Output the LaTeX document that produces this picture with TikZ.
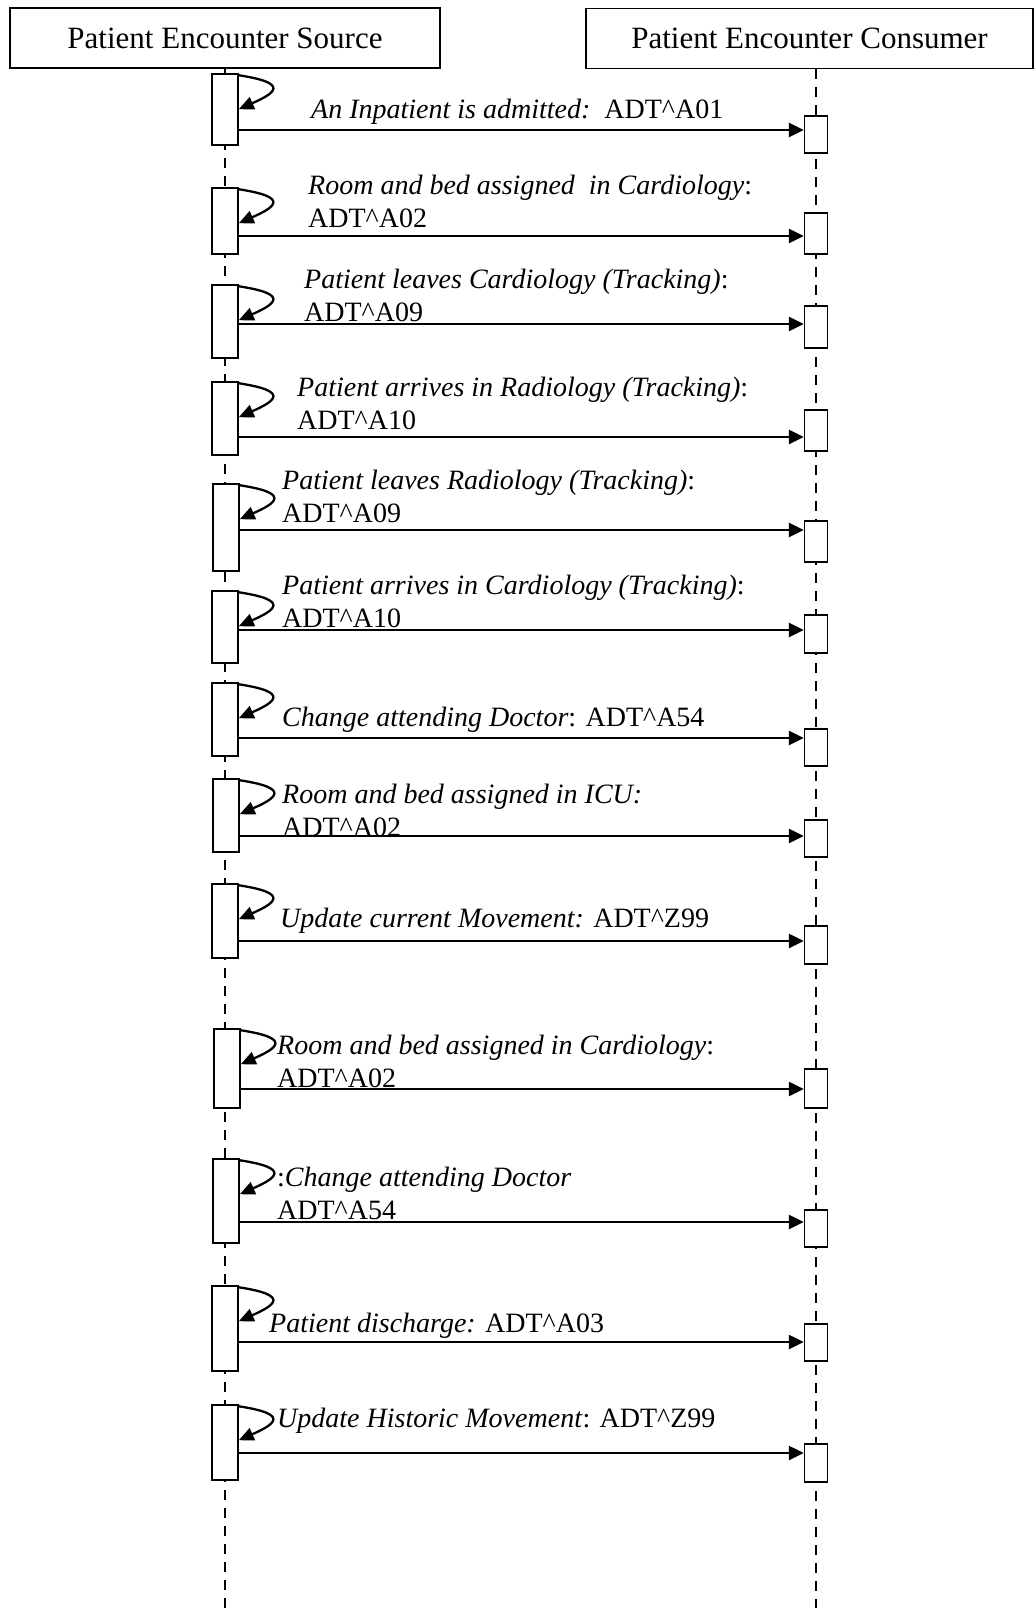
\documentclass[tikz,border=0pt]{standalone}
\usepackage{fontspec}
\setmainfont{Liberation Serif}
\usetikzlibrary{arrows.meta}
\newcommand\adt[1]{ADT\textasciicircum#1}

\begin{document}
\begin{tikzpicture}[x=1pt,y=-1pt,
    head/.style={draw,line width=1.5pt,minimum height=60pt,inner sep=0pt,font=\fontsize{31}{36}\selectfont},
    life/.style={line width=1.5pt,dash pattern=on 10pt off 8pt},
    actbox/.style={draw,fill=white,line width=1.5pt,minimum width=26pt,inner sep=0pt},
    recvbox/.style={draw,fill=white,line width=1.5pt,minimum width=23pt,inner sep=0pt},
    msg/.style={line width=2.6pt,-{Triangle[length=15pt,width=14pt]}},
    selfloop/.style={line width=2.3pt,-{Triangle[length=15pt,width=13pt]}},
    lbl/.style={anchor=base west,inner sep=0pt,align=left,font=\fontsize{28}{33}\selectfont}
  ]
    \useasboundingbox (0,0) rectangle (1035,1608);

    % lifelines
    \node[head,minimum width=430pt] (src) at (225,38) {Patient Encounter Source};
    \node[head,minimum width=447pt] (cons) at (809.5,38.5) {Patient Encounter Consumer};
    \coordinate (sl) at (225,68);
    \coordinate (cl) at (816,69);
    \coordinate (bot) at (0,1608);
    \draw[life] (sl) -- (sl |- bot);
    \draw[life] (cl) -- (cl |- bot);

    % activations on the source
    \node[actbox,minimum height=71pt] (s1) at (225,109.5) {};
    \node[actbox,minimum height=66pt] (s2) at (225,221) {};
    \node[actbox,minimum height=73pt] (s3) at (225,321.5) {};
    \node[actbox,minimum height=73pt] (s4) at (225,418.5) {};
    \node[actbox,minimum height=87pt] (s5) at (226,527.5) {};
    \node[actbox,minimum height=72pt] (s6) at (225,627) {};
    \node[actbox,minimum height=73pt] (s7) at (225,719.5) {};
    \node[actbox,minimum height=73pt] (s8) at (226,815.5) {};
    \node[actbox,minimum height=74pt] (s9) at (225,921) {};
    \node[actbox,minimum height=79pt] (s10) at (227,1068.5) {};
    \node[actbox,minimum height=84pt] (s11) at (226,1201) {};
    \node[actbox,minimum height=85pt] (s12) at (225,1328.5) {};
    \node[actbox,minimum height=75pt] (s13) at (225,1442.5) {};

    % activations on the consumer
    \node[recvbox,minimum height=37pt] (r1) at (816,134.5) {};
    \node[recvbox,minimum height=41pt] (r2) at (816,233.5) {};
    \node[recvbox,minimum height=42pt] (r3) at (816,327) {};
    \node[recvbox,minimum height=41pt] (r4) at (816,430.5) {};
    \node[recvbox,minimum height=41pt] (r5) at (816,541.5) {};
    \node[recvbox,minimum height=38pt] (r6) at (816,634) {};
    \node[recvbox,minimum height=37pt] (r7) at (816,747.5) {};
    \node[recvbox,minimum height=37pt] (r8) at (816,838.5) {};
    \node[recvbox,minimum height=38pt] (r9) at (816,945) {};
    \node[recvbox,minimum height=39pt] (r10) at (816,1088.5) {};
    \node[recvbox,minimum height=37pt] (r11) at (816,1228.5) {};
    \node[recvbox,minimum height=37pt] (r12) at (816,1342.5) {};
    \node[recvbox,minimum height=38pt] (r13) at (816,1463) {};

    % self calls
    \foreach \s in {s1,s2,s3,s4,s5,s6,s7,s8,s9,s10,s11,s12,s13}
      \draw[selfloop] ([yshift=-2pt]\s.north east) .. controls +(52,8) and +(36,-16) .. ([yshift=-36pt]\s.north east);

    % messages
    \draw[msg] (s1.east |- 0,130) -- (r1.west |- 0,130);
    \draw[msg] (s2.east |- 0,236) -- (r2.west |- 0,236);
    \draw[msg] (s3.east |- 0,324) -- (r3.west |- 0,324);
    \draw[msg] (s4.east |- 0,437) -- (r4.west |- 0,437);
    \draw[msg] (s5.east |- 0,530) -- (r5.west |- 0,530);
    \draw[msg] (s6.east |- 0,630) -- (r6.west |- 0,630);
    \draw[msg] (s7.east |- 0,738) -- (r7.west |- 0,738);
    \draw[msg] (s8.east |- 0,836) -- (r8.west |- 0,836);
    \draw[msg] (s9.east |- 0,941) -- (r9.west |- 0,941);
    \draw[msg] (s10.east |- 0,1089) -- (r10.west |- 0,1089);
    \draw[msg] (s11.east |- 0,1222) -- (r11.west |- 0,1222);
    \draw[msg] (s12.east |- 0,1342) -- (r12.west |- 0,1342);
    \draw[msg] (s13.east |- 0,1453) -- (r13.west |- 0,1453);

    % message labels (base = last line)
    \node[lbl] (t1) at (311,119) {\textit{An Inpatient is admitted:}\ \ \adt{A01}};
    \node[lbl] (t2) at (308,227) {\textit{Room and bed assigned\ \ in Cardiology}:\\\adt{A02}};
    \node[lbl] (t3) at (304,321) {\textit{Patient leaves Cardiology (Tracking)}:\\\adt{A09}};
    \node[lbl] (t4) at (297,429) {\textit{Patient arrives in Radiology (Tracking)}:\\\adt{A10}};
    \node[lbl] (t5) at (282,522) {\textit{Patient leaves Radiology (Tracking)}:\\\adt{A09}};
    \node[lbl] (t6) at (282,627) {\textit{Patient arrives in Cardiology (Tracking)}:\\\adt{A10}};
    \node[lbl] (t7) at (282,726) {\textit{Change attending Doctor}: \adt{A54}};
    \node[lbl] (t8) at (282,836) {\textit{Room and bed assigned in ICU:}\\\adt{A02}};
    \node[lbl] (t9) at (280,927) {\textit{Update current Movement:} \adt{Z99}};
    \node[lbl] (t10) at (277,1087) {\textit{Room and bed assigned in Cardiology}:\\\adt{A02}};
    \node[lbl] (t11) at (277,1219) {:\textit{Change attending Doctor}\\\adt{A54}};
    \node[lbl] (t12) at (269,1332) {\textit{Patient discharge:} \adt{A03}};
    \node[lbl] (t13) at (277,1427) {\textit{Update Historic Movement}: \adt{Z99}};
  \end{tikzpicture}
\end{document}
